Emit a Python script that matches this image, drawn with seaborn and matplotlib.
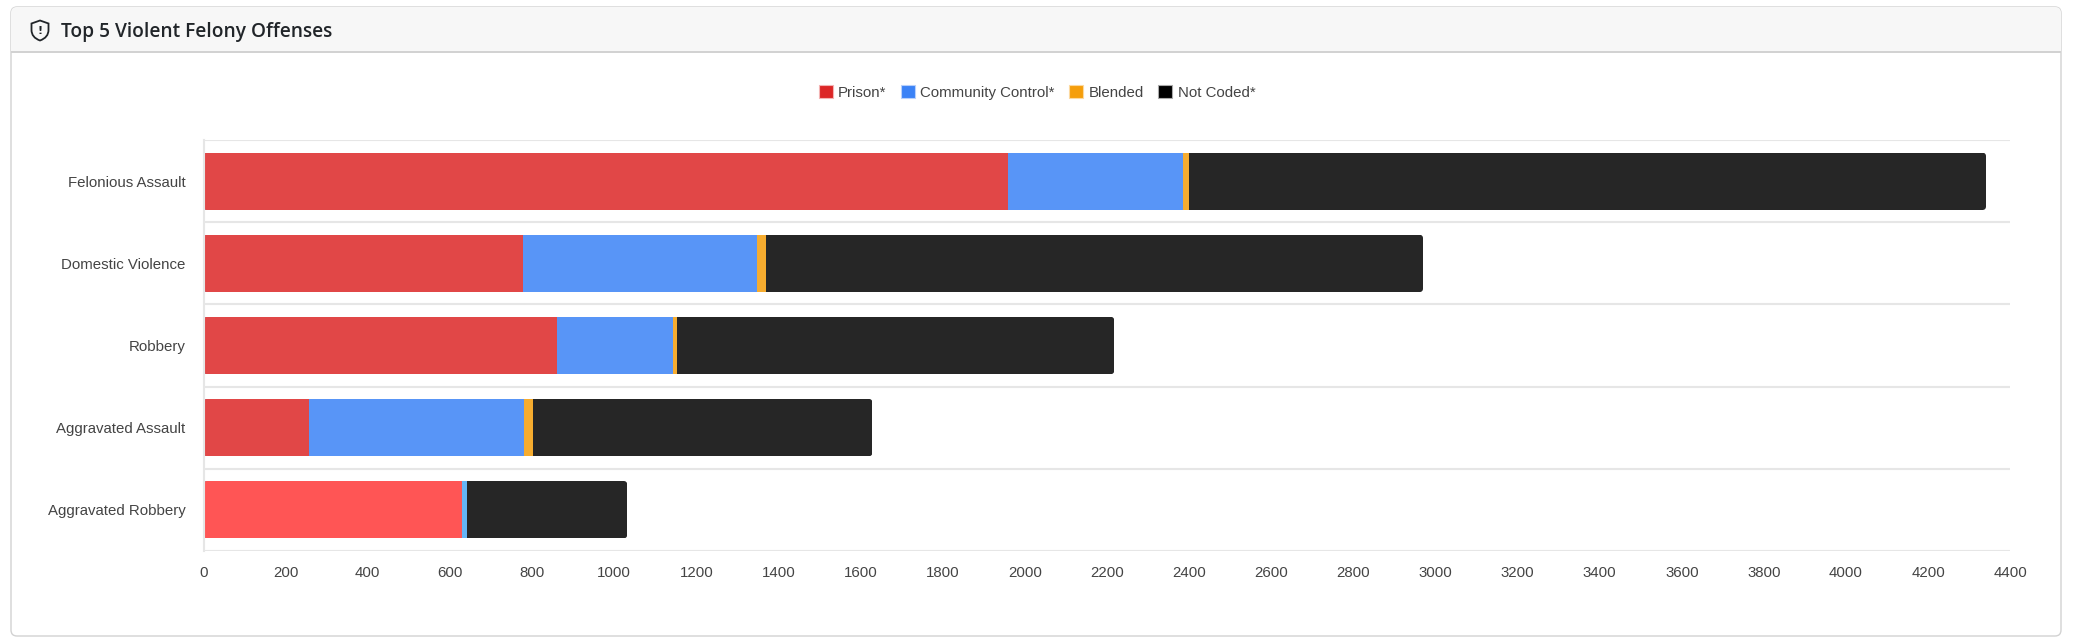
import numpy as np
import pandas as pd
import matplotlib
matplotlib.use("Agg")
import matplotlib.pyplot as plt
import seaborn as sns
from matplotlib.patches import FancyBboxPatch, Patch, PathPatch, Rectangle
from matplotlib.path import Path
from matplotlib.transforms import IdentityTransform

# ---------------- data ----------------
categories = ["Felonious Assault", "Domestic Violence", "Robbery",
              "Aggravated Assault", "Aggravated Robbery"]
prison = [1958, 779, 861, 258, 629]
community_control = [427, 570, 282, 523, 13]
blended = [15, 20, 11, 21, 0]
not_coded = [1941, 1601, 1064, 827, 390]
series_names = ["Prison*", "Community Control*", "Blended", "Not Coded*"]
x_ticks = list(range(0, 4401, 200))

# ---------------- style ----------------
bar_colors = ["#e14747", "#5895f7", "#f6ac2f", "#262626"]
hover_colors = ["#ff5555", "#64b5f6", "#f6ac2f", "#262626"]   # last (hovered) row
legend_colors = ["#dc2626", "#3b82f6", "#f59e0b", "#000000"]
legend_edges = ["#f3b4b4", "#b8d0fb", "#fcd9a0", "#aaaaaa"]
text_col = "#444444"

sns.set_style("white")
plt.rcParams["font.family"] = ["Liberation Sans", "DejaVu Sans"]

W, H = 2079, 643
fig = plt.figure(figsize=(W / 100, H / 100), dpi=100)
fig.patch.set_facecolor("white")

# card
card = FancyBboxPatch((11, H - 636), 2061 - 11, 636 - 7,
                      boxstyle="round,pad=0,rounding_size=6",
                      transform=IdentityTransform(), facecolor="white",
                      edgecolor="#d2d2d2", linewidth=1.0, zorder=-3)
fig.patches.append(card)
header = Rectangle((11, H - 52), 2061 - 11, 52 - 7, transform=IdentityTransform(),
                   facecolor="#f7f7f7", edgecolor="none", zorder=-2)
header.set_clip_path(card)
fig.patches.append(header)
hline = Rectangle((11, H - 52.5), 2061 - 11, 1.2, transform=IdentityTransform(),
                  facecolor="#d2d2d2", edgecolor="none", zorder=-1)
fig.patches.append(hline)

# shield icon
def py(y):
    return H - y
verts = [(40, py(20.5)), (48.5, py(23.5)), (48.5, py(30)),
         (48.5, py(37.5)), (40, py(40.5)),
         (31.5, py(37.5)), (31.5, py(30)),
         (31.5, py(23.5)), (40, py(20.5))]
codes = [Path.MOVETO, Path.LINETO, Path.LINETO,
         Path.CURVE3, Path.CURVE3, Path.CURVE3, Path.CURVE3,
         Path.LINETO, Path.CLOSEPOLY]
shield = PathPatch(Path(verts, codes), transform=IdentityTransform(),
                   facecolor="none", edgecolor="#212529", linewidth=1.3, zorder=2)
fig.patches.append(shield)
fig.text(40 / W, 1 - 30.5 / H, "!", ha="center", va="center", fontsize=8,
         fontweight="bold", color="#212529", family=["DejaVu Sans"])

fig.text(61 / W, 1 - 31.5 / H, "Top 5 Violent Felony Offenses", ha="left", va="center",
         fontsize=13.8, fontweight="semibold", color="#212529",
         family=["Open Sans", "DejaVu Sans"])

# ---------------- axes ----------------
ax_l, ax_r, ax_t, ax_b = 203.5, 2010.3, 140.3, 550.7
ax = fig.add_axes([ax_l / W, 1 - ax_b / H, (ax_r - ax_l) / W, (ax_b - ax_t) / H])
ax.set_facecolor("none")
ax.set_zorder(5)

df = pd.DataFrame({"category": categories,
                   "Prison*": prison,
                   "Community Control*": community_control,
                   "Blended": blended,
                   "Not Coded*": not_coded})
cum = df[series_names].cumsum(axis=1)
for s in series_names:
    df["cum_" + s] = cum[s]

containers = {}
for idx in range(len(series_names) - 1, -1, -1):
    s = series_names[idx]
    sns.barplot(data=df, y="category", x="cum_" + s, order=categories, orient="h",
                color=bar_colors[idx], saturation=1, width=0.7, ax=ax,
                linewidth=0, edgecolor="none", errorbar=None)
    containers[s] = ax.containers[-1]
    # hovered last row colour
    containers[s].patches[-1].set_facecolor(hover_colors[idx])

ax.set_xlim(0, 4400)
ax.set_ylim(len(categories) - 0.5, -0.5)

# rounded outer corners via clip path per row
px_per_x = (ax_r - ax_l) / 4400
px_per_y = (ax_b - ax_t) / len(categories)
r_px = 4.0
r_x = r_px / px_per_x
aspect = (r_px / px_per_y) / r_x
for i in range(len(categories)):
    full = containers[series_names[-1]].patches[i]
    clip = FancyBboxPatch((full.get_x(), full.get_y()), full.get_width(), full.get_height(),
                          boxstyle=f"round,pad=0,rounding_size={r_x}",
                          mutation_aspect=aspect, transform=ax.transData)
    for s in series_names:
        containers[s].patches[i].set_clip_path(clip)

# grid / ticks
ax.set_yticks(np.arange(-0.5, len(categories), 1), minor=True)
ax.grid(False)
ax.grid(which="minor", axis="y", color="#e6e6e6", linewidth=1.5)
ax.set_axisbelow(True)
ax.set_xticks(x_ticks)
ax.set_xticklabels([str(t) for t in x_ticks])
ax.tick_params(axis="x", which="major", length=5.8, width=1.2, color="#e6e6e6",
               labelsize=10.8, labelcolor=text_col, pad=5)
ax.tick_params(axis="y", which="major", length=0, labelsize=10.8,
               labelcolor=text_col, pad=13)
ax.tick_params(axis="y", which="minor", length=0)
ax.set_xlabel("")
ax.set_ylabel("")
for sp in ["top", "right", "bottom"]:
    ax.spines[sp].set_visible(False)
ax.spines["left"].set_color("#e6e6e6")
ax.spines["left"].set_linewidth(1.5)

# legend
handles = [Patch(facecolor=legend_colors[i], edgecolor=legend_edges[i], linewidth=0.8)
           for i in range(len(series_names))]
fig.legend(handles, series_names, loc="center", bbox_to_anchor=(1037 / W, 1 - 92.7 / H),
           ncol=4, frameon=False, fontsize=10.8, labelcolor=text_col,
           handlelength=0.95, handleheight=0.95, handletextpad=0.35, columnspacing=0.95,
           borderpad=0)

fig.savefig("out.png", dpi=100)
